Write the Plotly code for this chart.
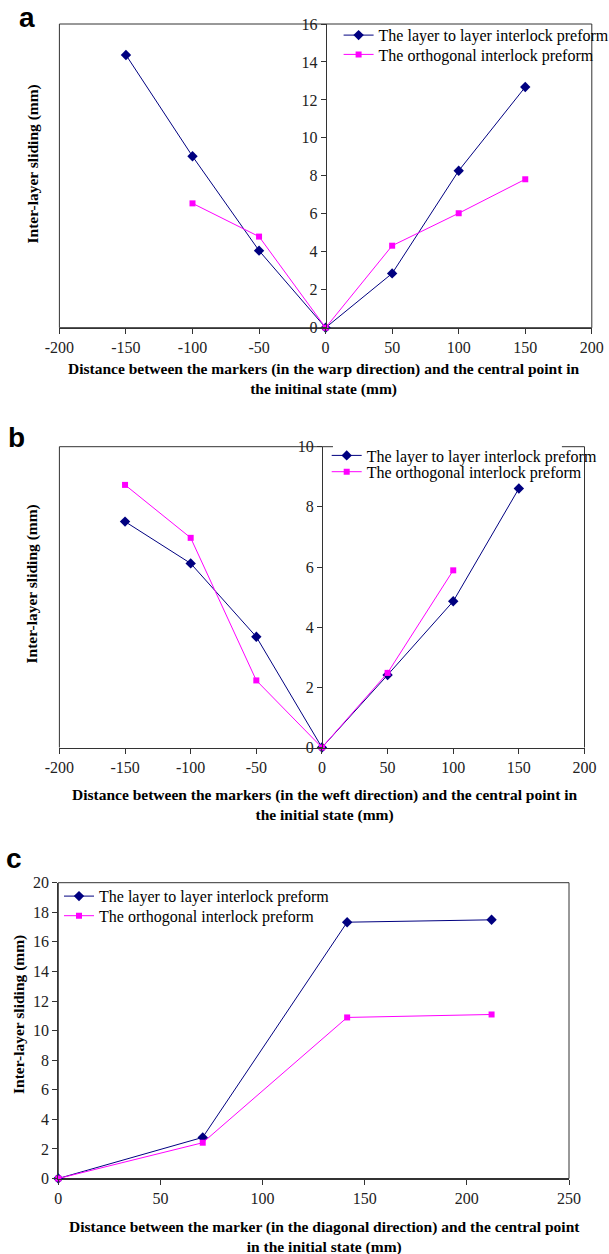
import plotly.graph_objects as go

W, H = 609, 1254

# ---------------- data ----------------
series_names = ["The layer to layer interlock preform", "The orthogonal interlock preform"]

# panel a: warp direction
warp_layer_x = [-150, -100, -50, 0, 50, 100, 150]
warp_layer_y = [14.37, 9.03, 4.06, 0, 2.86, 8.27, 12.68]
warp_orth_x = [-100, -50, 0, 50, 100, 150]
warp_orth_y = [6.55, 4.80, 0, 4.32, 6.03, 7.82]

# panel b: weft direction
weft_layer_x = [-150, -100, -50, 0, 50, 100, 150]
weft_layer_y = [7.51, 6.12, 3.68, 0, 2.41, 4.86, 8.61]
weft_orth_x = [-150, -100, -50, 0, 50, 100]
weft_orth_y = [8.73, 6.97, 2.23, 0, 2.48, 5.89]

# panel c: diagonal direction
diag_x = [0, 70.7, 141.4, 212.1]
diag_layer_y = [0, 2.78, 17.33, 17.49]
diag_orth_y = [0, 2.42, 10.89, 11.09]

# tick labels
ab_xtick_vals = [-200, -150, -100, -50, 0, 50, 100, 150, 200]
ab_xtick_text = ["-200", "-150", "-100", "-50", "0", "50", "100", "150", "200"]
a_ytick_vals = [0, 2, 4, 6, 8, 10, 12, 14, 16]
b_ytick_vals = [0, 2, 4, 6, 8, 10]
c_xtick_vals = [0, 50, 100, 150, 200, 250]
c_ytick_vals = [0, 2, 4, 6, 8, 10, 12, 14, 16, 18, 20]

x_titles = [
    "Distance between the markers (in the warp direction) and the central point in<br>the initinal state (mm)",
    "Distance between the markers (in the weft direction) and the central point in<br>the initial state (mm)",
    "Distance between the marker (in the diagonal direction) and the central point<br>in the initial state (mm)",
]
y_title = "Inter-layer sliding (mm)"
panel_labels = ["a", "b", "c"]

# ---------------- styling ----------------
NAVY = "#000080"
MAG = "#FF00FF"
AX = "#333333"
SERIF = "Liberation Serif"
TICKFONT = dict(family=SERIF, size=16, color="#222222")


def fx(px):
    return px / W


def fy(py):
    return 1 - py / H


# panel boxes in pixels (left, right, top, bottom)
boxes = [(59.4, 591.8, 24.0, 327.7), (59.4, 584.5, 446.7, 747.5), (58.3, 569.0, 882.7, 1178.5)]

fig = go.Figure()


def add_pair(xl, yl, xo, yo, xa, ya, leg1, leg2):
    fig.add_trace(go.Scatter(x=xl, y=yl, mode="lines+markers", name=series_names[0],
                             line=dict(color=NAVY, width=1),
                             marker=dict(symbol="diamond", size=8, color=NAVY),
                             xaxis=xa, yaxis=ya, legend=leg1, cliponaxis=False))
    fig.add_trace(go.Scatter(x=xo, y=yo, mode="lines+markers", name=series_names[1],
                             line=dict(color=MAG, width=1),
                             marker=dict(symbol="square", size=6, color=MAG),
                             xaxis=xa, yaxis=ya, legend=leg2, cliponaxis=False))


add_pair(warp_layer_x, warp_layer_y, warp_orth_x, warp_orth_y, "x", "y", "legend", "legend2")
add_pair(weft_layer_x, weft_layer_y, weft_orth_x, weft_orth_y, "x2", "y2", "legend3", "legend4")
add_pair(diag_x, diag_layer_y, diag_x, diag_orth_y, "x3", "y3", "legend5", "legend6")

common_x = dict(showgrid=False, zeroline=False, showline=True, linecolor=AX, linewidth=1,
                ticks="outside", ticklen=5, tickcolor=AX, tickfont=TICKFONT)
common_y = dict(showgrid=False, zeroline=False, showline=True, linecolor=AX, linewidth=1,
                ticks="outside", ticklen=5, tickcolor=AX, tickfont=TICKFONT)

layout = dict(width=W, height=H, margin=dict(l=0, r=0, t=0, b=0, autoexpand=False),
              paper_bgcolor="white", plot_bgcolor="rgba(0,0,0,0)", showlegend=True,
              font=dict(family=SERIF, color="black"))

# panel a
l, r, t, b = boxes[0]
layout["xaxis"] = dict(common_x, domain=[fx(l), fx(r)], range=[-200, 200], anchor="y",
                       tickvals=ab_xtick_vals, ticktext=ab_xtick_text)
layout["yaxis"] = dict(common_y, domain=[fy(b), fy(t)], range=[0, 16], anchor="free",
                       position=fx((l + r) / 2), tickvals=a_ytick_vals)
# panel b
l, r, t, b = boxes[1]
layout["xaxis2"] = dict(common_x, domain=[fx(l), fx(r)], range=[-200, 200], anchor="y2",
                        tickvals=ab_xtick_vals, ticktext=ab_xtick_text)
layout["yaxis2"] = dict(common_y, domain=[fy(b), fy(t)], range=[0, 10], anchor="free",
                        position=fx((l + r) / 2), tickvals=b_ytick_vals)
# panel c
l, r, t, b = boxes[2]
layout["xaxis3"] = dict(common_x, domain=[fx(l), fx(r)], range=[0, 250], anchor="y3",
                        tickvals=c_xtick_vals)
layout["yaxis3"] = dict(common_y, domain=[fy(b), fy(t)], range=[0, 20], anchor="x3",
                        tickvals=c_ytick_vals)

legfont = dict(family=SERIF, size=16, color="black")
leg_common = dict(xanchor="left", yanchor="top", bgcolor="rgba(0,0,0,0)", borderwidth=0,
                  font=legfont, itemwidth=30)
OFF = 17.5
leg_pos = [(338.6, 35.7), (338.6, 55.0), (326.7, 456.0), (326.7, 472.3), (59.0, 896.7), (59.0, 916.3)]
for i, (px, py) in enumerate(leg_pos):
    key = "legend" if i == 0 else "legend%d" % (i + 1)
    layout[key] = dict(leg_common, x=fx(px), y=fy(py - OFF))

fig.update_layout(**layout)

# frames
shapes = []
for xr, yr in [("x domain", "y domain"), ("x3 domain", "y3 domain")]:
    shapes.append(dict(type="rect", xref=xr, yref=yr, x0=0, x1=1, y0=0, y1=1,
                       line=dict(color=AX, width=1), layer="below"))
# panel b frame, top border interrupted by legend
for x0, y0, x1, y1 in [(0, 0, 0, 1), (1, 0, 1, 1), (0, 1, 0.521, 1), (0.957, 1, 1, 1)]:
    shapes.append(dict(type="line", xref="x2 domain", yref="y2 domain", x0=x0, x1=x1, y0=y0, y1=y1,
                       line=dict(color=AX, width=1), layer="below"))
fig.update_layout(shapes=shapes)

# annotations
ann = []
xt_pos = [(324, 379.5), (325, 805), (324, 1236.5)]
for txt, (px, py) in zip(x_titles, xt_pos):
    ann.append(dict(text=txt, x=fx(px), y=fy(py), xref="paper", yref="paper", showarrow=False,
                    xanchor="center", yanchor="middle", align="center",
                    font=dict(family=SERIF, size=15.5, color="black", weight="bold")))
yt_pos = [(33, 164.5), (32, 584.5), (19, 1015)]
for px, py in yt_pos:
    ann.append(dict(text=y_title, x=fx(px), y=fy(py), xref="paper", yref="paper", showarrow=False,
                    xanchor="center", yanchor="middle", textangle=-90,
                    font=dict(family=SERIF, size=15.5, color="black", weight="bold")))
pl_pos = [(27, 17), (16, 437), (14, 858)]
for txt, (px, py) in zip(panel_labels, pl_pos):
    ann.append(dict(text=txt, x=fx(px), y=fy(py), xref="paper", yref="paper", showarrow=False,
                    xanchor="center", yanchor="middle",
                    font=dict(family="Liberation Sans", size=28, color="black", weight="bold")))
fig.update_layout(annotations=ann)

fig.write_html("out.html")
